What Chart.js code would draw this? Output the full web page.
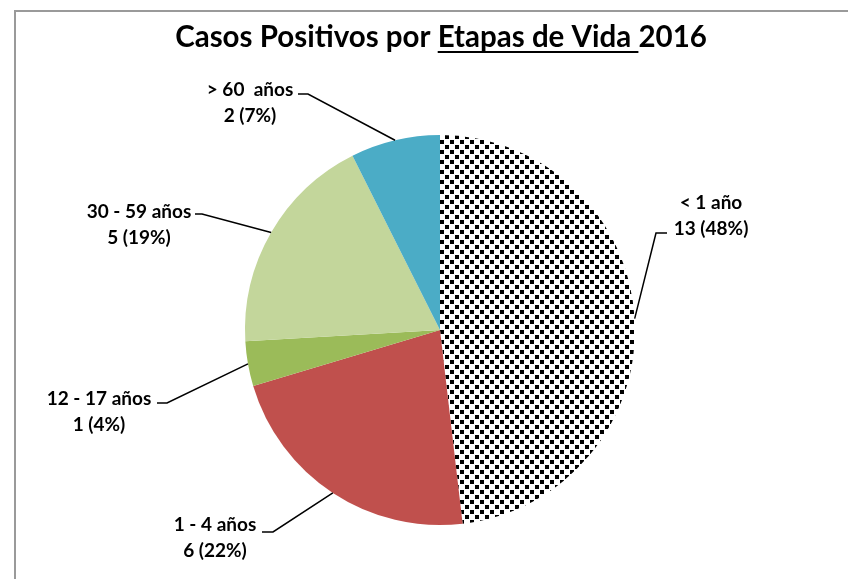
<!DOCTYPE html>
<html>
<head>
<meta charset="utf-8">
<script src="https://cdn.jsdelivr.net/npm/chart.js@4.4.1/dist/chart.umd.min.js"></script>
<style>
  html, body { margin: 0; padding: 0; background: #ffffff; }
  #wrap { width: 848px; height: 579px; position: relative; }
</style>
</head>
<body>
<div id="wrap"><canvas id="c" width="848" height="579"></canvas></div>
<script>
// ---- data ----
const titleBefore = 'Casos Positivos por ';
const titleUnderlined = 'Etapas de Vida ';
const titleAfter = '2016';
const categories = ['< 1 año', '1 - 4 años', '12 - 17 años', '30 - 59 años', '> 60  años'];
const casos = [13, 6, 1, 5, 2];
const colors = ['pattern', '#C0504D', '#9BBB59', '#C3D69B', '#4BACC6'];

const total = casos.reduce((a, b) => a + b, 0);
const percentLabels = casos.map(v => v + ' (' + Math.round(v / total * 100) + '%)');

// ---- pattern for first slice ----
function makePattern() {
  const t = document.createElement('canvas');
  t.width = 10; t.height = 10;
  const g = t.getContext('2d');
  g.fillStyle = '#ffffff';
  g.fillRect(0, 0, 10, 10);
  g.fillStyle = '#000000';
  g.fillRect(0, 0, 4, 4);
  g.fillRect(5, 5, 4, 4);
  return document.getElementById('c').getContext('2d').createPattern(t, 'repeat');
}
const pat = makePattern();
const bg = colors.map(c => c === 'pattern' ? pat : c);

// label layout (offsets relative to pie centre, in px)
const labelLayout = [
  { cx: 271, y1: -127, elbow: [216, -97], end: [227, -97] },
  { cx: -225, y1: 195, elbow: [-167, 202], end: [-178, 202] },
  { cx: -341, y1: 69, elbow: [-273, 73], end: [-283, 73] },
  { cx: -301, y1: -118, elbow: [-238, -116], end: [-245, -116] },
  { cx: -190, y1: -240, elbow: [-132, -236], end: [-142, -236] }
];

const FONT = '"Lato", "Carlito", "Open Sans", sans-serif';

const decor = {
  id: 'decor',
  beforeDraw(chart) {
    const ctx = chart.ctx;
    ctx.save();
    ctx.fillStyle = '#ffffff';
    ctx.fillRect(0, 0, chart.width, chart.height);
    ctx.strokeStyle = '#9a9a9a';
    ctx.lineWidth = 2;
    ctx.strokeRect(15, 11, chart.width + 20, chart.height + 20);
    // title
    ctx.font = 'bold 29.5px ' + FONT;
    ctx.fillStyle = '#000000';
    ctx.textBaseline = 'middle';
    ctx.textAlign = 'left';
    const w1 = ctx.measureText(titleBefore).width;
    const w2 = ctx.measureText(titleUnderlined).width;
    const w3 = ctx.measureText(titleAfter).width;
    const tw = w1 + w2 + w3;
    const x0 = 441 - tw / 2;
    const ty = 37;
    ctx.fillText(titleBefore, x0, ty);
    ctx.fillText(titleUnderlined, x0 + w1, ty);
    ctx.fillText(titleAfter, x0 + w1 + w2, ty);
    ctx.fillRect(x0 + w1, ty + 14, w2, 2);
    ctx.restore();
  },
  afterDraw(chart) {
    const ctx = chart.ctx;
    const meta = chart.getDatasetMeta(0);
    ctx.save();
    meta.data.forEach((arc, i) => {
      const p = arc.getProps(['x', 'y', 'startAngle', 'endAngle', 'outerRadius'], true);
      const mid = (p.startAngle + p.endAngle) / 2;
      const ex = p.x + Math.cos(mid) * p.outerRadius;
      const ey = p.y + Math.sin(mid) * p.outerRadius;
      const L = labelLayout[i];
      ctx.strokeStyle = '#000000';
      ctx.lineWidth = 1.5;
      ctx.beginPath();
      ctx.moveTo(ex, ey);
      ctx.lineTo(p.x + L.elbow[0], p.y + L.elbow[1]);
      ctx.lineTo(p.x + L.end[0], p.y + L.end[1]);
      ctx.stroke();
      ctx.fillStyle = '#000000';
      ctx.font = 'bold 19px ' + FONT;
      ctx.textAlign = 'center';
      ctx.textBaseline = 'middle';
      ctx.fillText(categories[i], p.x + L.cx, p.y + L.y1);
      ctx.fillText(percentLabels[i], p.x + L.cx, p.y + L.y1 + 26);
    });
    ctx.restore();
  }
};

new Chart(document.getElementById('c'), {
  type: 'pie',
  data: {
    labels: categories,
    datasets: [{
      data: casos,
      backgroundColor: bg,
      borderWidth: 0,
      hoverOffset: 0
    }]
  },
  options: {
    responsive: false,
    animation: false,
    devicePixelRatio: 1,
    layout: { padding: { left: 245, right: 213, top: 135, bottom: 54 } },
    plugins: {
      legend: { display: false },
      title: { display: false },
      tooltip: { enabled: false }
    },
    events: []
  },
  plugins: [decor]
});
</script>
</body>
</html>
